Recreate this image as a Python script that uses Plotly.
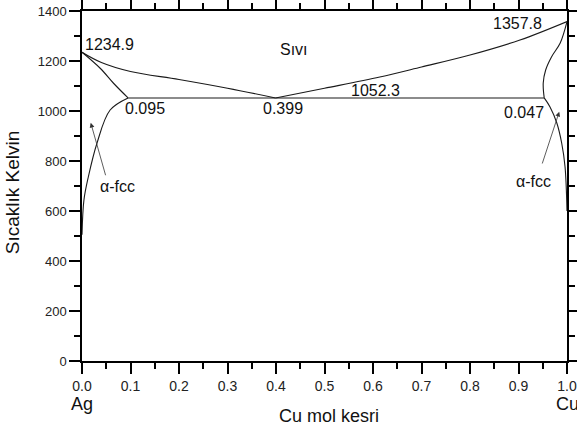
import plotly.graph_objects as go

# Ag-Cu phase diagram: composition (Cu mole fraction) vs temperature (K)
liq_left_x = [0.0, 0.04, 0.1, 0.2, 0.3, 0.399]
liq_left_t = [1234.9, 1194, 1158, 1126, 1091, 1052.3]

sol_left_x = [0.0, 0.038, 0.065, 0.095]
sol_left_t = [1234.9, 1170, 1111, 1052.3]

solv_left_x = [0.095, 0.058, 0.031, 0.013, 0.004, 0.0]
solv_left_t = [1052.3, 1004, 872, 736, 644, 505]

liq_right_x = [0.399, 0.5, 0.614, 0.7, 0.8, 0.903, 1.0]
liq_right_t = [1052.3, 1091, 1136, 1176, 1224, 1284, 1357.8]

sol_right_x = [1.0, 0.986, 0.968, 0.956, 0.951, 0.953]
sol_right_t = [1357.8, 1272, 1216, 1164, 1112, 1052.3]

solv_right_x = [0.953, 0.965, 0.979, 0.989, 0.996, 1.0]
solv_right_t = [1052.3, 1016, 952, 872, 776, 600]

eutectic_x = [0.095, 0.953]
eutectic_t = [1052.3, 1052.3]

FONT = "Liberation Sans, Arial, sans-serif"
LINE = "#1a1a1a"

fig = go.Figure()
curves = [
    (liq_left_x, liq_left_t, "spline"),
    (sol_left_x, sol_left_t, "spline"),
    (solv_left_x, solv_left_t, "spline"),
    (liq_right_x, liq_right_t, "spline"),
    (sol_right_x, sol_right_t, "spline"),
    (solv_right_x, solv_right_t, "spline"),
    (eutectic_x, eutectic_t, "linear"),
]
for xs, ts, shape in curves:
    fig.add_trace(go.Scatter(
        x=xs, y=ts, mode="lines",
        line=dict(color=LINE, width=1.1, shape=shape, smoothing=1.0),
        showlegend=False, hoverinfo="skip", cliponaxis=False,
    ))

labels = [
    ("1234.9", 0.003, 1265, "left"),
    ("Sıvı", 0.437, 1248, "center"),
    ("1357.8", 0.897, 1352, "center"),
    ("0.095", 0.129, 1012, "center"),
    ("0.399", 0.414, 1012, "center"),
    ("0.047", 0.912, 994, "center"),
    ("1052.3", 0.606, 1082, "center"),
    ("α-fcc", 0.073, 700, "center"),
    ("α-fcc", 0.931, 720, "center"),
]
for txt, x, y, xa in labels:
    fig.add_annotation(x=x, y=y, text=txt, showarrow=False, xanchor=xa,
                       yanchor="middle", font=dict(family=FONT, size=16, color="#111"))

# arrows pointing into the alpha-fcc regions
arrows = [
    (0.018, 953, 0.0495, 737),
    (0.984, 997, 0.948, 784),
]
for hx, hy, tx, ty in arrows:
    fig.add_annotation(x=hx, y=hy, ax=tx, ay=ty, xref="x", yref="y",
                       axref="x", ayref="y", text="", showarrow=True,
                       arrowhead=2, arrowsize=1.2, arrowwidth=0.8,
                       arrowcolor="#333", standoff=0, startstandoff=0)

# axis titles and end-member labels
paper_texts = [
    ("Cu mol kesri", 0.509, -0.157, 0, 18),
    ("Sıcaklık Kelvin", -0.143, 0.481, -90, 19),
    ("Ag", 0.0, -0.123, 0, 18),
    ("Cu", 1.0, -0.123, 0, 18),
]
for txt, x, y, ang, size in paper_texts:
    fig.add_annotation(xref="paper", yref="paper", x=x, y=y, text=txt,
                       textangle=ang, showarrow=False, xanchor="center",
                       yanchor="middle", font=dict(family=FONT, size=size, color="#111"))

axis_common = dict(
    showgrid=False, zeroline=False, showline=True, linecolor="black", linewidth=1.5,
    mirror="ticks", ticks="outside", ticklen=11, tickwidth=2, tickcolor="black",
    automargin=False,
)
fig.update_xaxes(range=[0, 1], tick0=0, dtick=0.1, tickformat=".1f",
                 tickfont=dict(family=FONT, size=14, color="#222"),
                 minor=dict(dtick=0.05, ticks="outside", ticklen=6, tickwidth=1.5,
                            tickcolor="black"),
                 **axis_common)
fig.update_yaxes(range=[0, 1400], tick0=0, dtick=200,
                 tickfont=dict(family=FONT, size=13, color="#222"),
                 minor=dict(dtick=100, ticks="outside", ticklen=6, tickwidth=1.5,
                            tickcolor="black"),
                 **axis_common)

fig.update_layout(
    width=577, height=430,
    margin=dict(l=82, r=10, t=11, b=69, pad=0),
    plot_bgcolor="white", paper_bgcolor="white",
    font=dict(family=FONT),
)

fig.write_html("out.html")
